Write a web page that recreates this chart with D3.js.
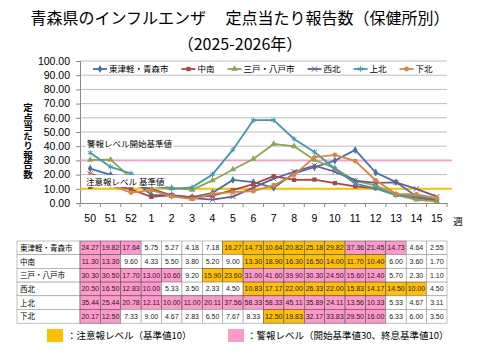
<!DOCTYPE html>
<html>
<head>
<meta charset="utf-8">
<script src="https://cdn.jsdelivr.net/npm/d3@7"></script>
<style>
  body { margin: 0; background: #fff; }
  text { font-family: "Liberation Sans", "Noto Sans CJK JP", sans-serif; }
  .jp { font-family: "Noto Sans CJK JP", sans-serif; }
</style>
</head>
<body>
<script>
var weeks = ["50","51","52","1","2","3","4","5","6","7","8","9","10","11","12","13","14","15"];
var regions = ["東津軽・青森市","中南","三戸・八戸市","西北","上北","下北"];

var higashitsugaru = [24.27,19.82,17.64,5.75,5.27,4.18,7.18,16.27,14.73,10.64,20.82,25.18,29.82,37.36,21.45,14.73,4.64,2.55];
var chunan = [11.30,13.30,9.60,4.33,5.50,3.80,5.20,9.00,13.30,18.90,16.30,16.50,14.00,11.70,10.40,6.00,3.60,1.70];
var sannohe = [30.30,30.50,17.70,13.00,10.60,9.20,15.90,23.60,31.00,41.60,39.90,30.30,24.50,15.60,12.40,5.70,2.30,1.10];
var seihoku = [20.50,16.50,12.83,10.00,5.33,3.50,2.33,4.50,10.83,17.17,22.00,26.33,22.00,15.83,14.17,14.50,10.00,4.50];
var kamikita = [35.44,25.44,20.78,12.11,10.00,11.00,20.11,37.56,58.33,58.33,45.11,35.89,24.11,13.56,10.33,5.33,4.67,3.11];
var shimokita = [20.17,12.50,7.33,9.00,4.67,2.83,6.50,7.67,8.33,12.50,19.83,32.17,33.83,29.50,16.00,6.33,6.00,3.50];

var seriesValues = [higashitsugaru, chunan, sannohe, seihoku, kamikita, shimokita];
var yTicks = [0,10,20,30,40,50,60,70,80,90,100];
var warnStart = 30, warnEnd = 10, attention = 10;

var colors = ["#4572A7","#AA4643","#89A54E","#71588F","#4198AF","#DB843D"];
var symbols = [d3.symbolDiamond, d3.symbolSquare, d3.symbolTriangle, d3.symbolX, d3.symbolAsterisk, d3.symbolCircle];
var strokeOnly = [false,false,false,true,true,false];

const W = 480, H = 360;

const svg = d3.select('body').append('svg')
  .attr('width', W).attr('height', H);

const x = d3.scaleBand().domain(weeks).range([80, 447]).padding(0);
const y = d3.scaleLinear().domain([0, 100]).range([203, 61]);
const cx = function(w) { return x(w) + x.bandwidth() / 2; };

// title
svg.append('text').attr('class','jp')
  .attr('x', 240).attr('y', 24).attr('text-anchor','middle')
  .style('font-size','16px')
  .text('青森県のインフルエンザ　 定点当たり報告数（保健所別）');
svg.append('text').attr('class','jp')
  .attr('x', 240).attr('y', 50).attr('text-anchor','middle')
  .style('font-size','16px')
  .text('（2025-2026年）');

// gridlines
svg.append('g').selectAll('line')
  .data(yTicks.filter(d => d > 0))
  .enter().append('line')
  .attr('x1', 80).attr('x2', 447)
  .attr('y1', d => y(d)).attr('y2', d => y(d))
  .attr('stroke', '#bfbfbf').attr('stroke-width', 1);

// y axis
const gY = svg.append('g').attr('transform','translate(80,0)')
  .call(d3.axisLeft(y).tickValues(yTicks).tickFormat(d3.format('.2f')).tickSize(4));
gY.select('.domain').attr('stroke','#888');
gY.selectAll('.tick line').attr('stroke','#888');
gY.selectAll('.tick text').attr('x', -10).style('font-size','10.5px').style('font-family','"Liberation Sans", sans-serif').attr('fill','#000');

// x axis
const gX = svg.append('g').attr('transform','translate(0,203)')
  .call(d3.axisBottom(x).tickSize(0).tickPadding(12));
gX.select('.domain').attr('stroke','#888');
gX.selectAll('.tick text').style('font-size','10.5px').style('font-family','"Liberation Sans", sans-serif').attr('fill','#000');
svg.append('g').selectAll('line')
  .data(weeks.concat(['end']))
  .enter().append('line')
  .attr('x1', (d, i) => 80 + i * x.bandwidth()).attr('x2', (d, i) => 80 + i * x.bandwidth())
  .attr('y1', 203).attr('y2', 207)
  .attr('stroke', '#888');
svg.append('text').attr('class','jp')
  .attr('x', 458).attr('y', 225).attr('text-anchor','middle')
  .style('font-size','9.5px').text('週');

// y axis title, vertical
svg.append('text').attr('class','jp')
  .attr('x', 28).attr('y', 103)
  .style('writing-mode','vertical-rl')
  .style('text-orientation','upright')
  .style('font-size','9.5px').style('font-weight','bold')
  .text('定点当たり報告数');

// reference lines
svg.append('line').attr('x1',80).attr('x2',452)
  .attr('y1', y(warnStart)).attr('y2', y(warnStart))
  .attr('stroke','#ff99cc').attr('stroke-width',1.6);
svg.append('line').attr('x1',80).attr('x2',452)
  .attr('y1', y(attention)).attr('y2', y(attention))
  .attr('stroke','#ffc000').attr('stroke-width',2);

// series
const line = d3.line().x((d, i) => cx(weeks[i])).y(d => y(d));
seriesValues.forEach(function(vals, s) {
  svg.append('path').datum(vals)
    .attr('d', line).attr('fill','none')
    .attr('stroke', colors[s]).attr('stroke-width', 1.8);
  svg.append('g').selectAll('path')
    .data(vals).enter().append('path')
    .attr('transform', (d, i) => 'translate(' + cx(weeks[i]) + ',' + y(d) + ')')
    .attr('d', d3.symbol().type(symbols[s]).size(strokeOnly[s] ? 20 : 18))
    .attr('fill', strokeOnly[s] ? 'none' : colors[s])
    .attr('stroke', strokeOnly[s] ? colors[s] : 'none')
    .attr('stroke-width', 1);
});

// reference labels
function refLabel(txt, lx, ly) {
  const g = svg.append('g');
  const t = g.append('text').attr('class','jp')
    .attr('x', lx).attr('y', ly).style('font-size','8.5px').text(txt);
  const bb = t.node().getBBox();
  g.insert('rect', 'text').attr('x', bb.x - 1).attr('y', bb.y)
    .attr('width', bb.width + 2).attr('height', bb.height).attr('fill','#fff');
}
refLabel('警報レベル開始基準値', 87, 147);
refLabel('注意報レベル 基準値', 86, 185);

// legend
let lx = 93;
regions.forEach(function(r, s) {
  const g = svg.append('g');
  g.append('line').attr('x1', lx).attr('x2', lx + 14).attr('y1', 69).attr('y2', 69)
    .attr('stroke', colors[s]).attr('stroke-width', 1.8);
  g.append('path').attr('transform','translate(' + (lx + 7) + ',69)')
    .attr('d', d3.symbol().type(symbols[s]).size(strokeOnly[s] ? 20 : 18))
    .attr('fill', strokeOnly[s] ? 'none' : colors[s])
    .attr('stroke', strokeOnly[s] ? colors[s] : 'none');
  const t = g.append('text').attr('class','jp')
    .attr('x', lx + 16).attr('y', 72).style('font-size','8.5px').text(r);
  lx += 16 + t.node().getComputedTextLength() + 13;
});

// table
const rowTop = 241, rowH = 13.7;
function levels(vals) {
  let warn = true;
  return vals.map(function(v) {
    if (warn && v < warnEnd) warn = false;
    if (!warn && v >= warnStart) warn = true;
    if (warn) return 'warn';
    if (v >= attention) return 'attn';
    return 'none';
  });
}
const fillFor = {warn: '#ff99cc', attn: '#ffc000', none: '#ffffff'};

const table = svg.append('g');
regions.forEach(function(r, s) {
  const ry = rowTop + s * rowH;
  table.append('rect').attr('x', 17).attr('y', ry).attr('width', 63).attr('height', rowH)
    .attr('fill','#fff').attr('stroke','#999').attr('stroke-width',0.6);
  table.append('text').attr('class','jp').attr('x', 20).attr('y', ry + rowH / 2 + 3)
    .style('font-size','7.5px').text(r);
  const lv = levels(seriesValues[s]);
  table.append('g').selectAll('rect')
    .data(seriesValues[s]).enter().append('rect')
    .attr('x', (d, i) => x(weeks[i])).attr('y', ry)
    .attr('width', x.bandwidth()).attr('height', rowH)
    .attr('fill', (d, i) => fillFor[lv[i]])
    .attr('stroke', (d, i) => lv[i] === 'none' ? '#999' : '#555').attr('stroke-width', 0.6);
  table.append('g').selectAll('text')
    .data(seriesValues[s]).enter().append('text')
    .attr('x', (d, i) => cx(weeks[i])).attr('y', ry + rowH / 2 + 2.5)
    .attr('text-anchor','middle')
    .style('font-size','7px').style('font-family','"Liberation Sans Narrow", "Liberation Sans", sans-serif')
    .attr('fill','#222')
    .text(d => d.toFixed(2));
});

// bottom legend
svg.append('rect').attr('x',47).attr('y',329).attr('width',16).attr('height',13).attr('fill','#ffc000');
svg.append('text').attr('class','jp').attr('x',67).attr('y',339).style('font-size','9.5px')
  .text('：注意報レベル（基準値10）');
svg.append('rect').attr('x',228).attr('y',329).attr('width',16).attr('height',13).attr('fill','#ff99cc');
svg.append('text').attr('class','jp').attr('x',247).attr('y',339).style('font-size','9.5px')
  .text('：警報レベル（開始基準値30、終息基準値10）');
</script>
</body>
</html>
